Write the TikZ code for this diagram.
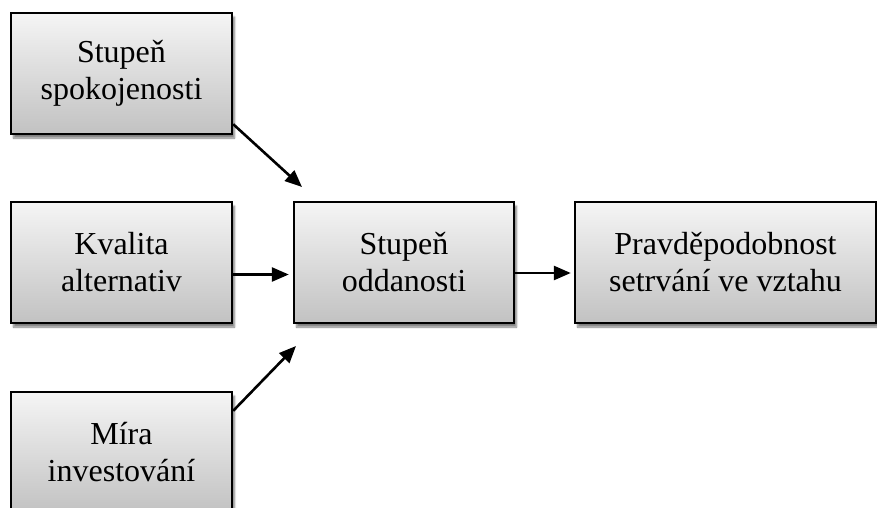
\documentclass[tikz,border=0pt]{standalone}
\usepackage{fontspec}
\setmainfont{Liberation Serif}
\usepackage{tikz}
\usetikzlibrary{arrows.meta, calc, shadows.blur}
\tikzset{
  faktor/.style={draw=black, line width=2.4pt, top color=gray!8, bottom color=gray!48,
    minimum height=121pt, inner sep=0pt, align=center,
    font=\fontsize{32pt}{37pt}\selectfont,
    blur shadow={shadow xshift=2.5pt, shadow yshift=-4pt, shadow blur steps=6, shadow opacity=50}},
  sipka/.style={-{Triangle[length=17pt, width=14pt]}, line width=2.6pt}
}

\begin{document}
\begin{tikzpicture}[x=1pt, y=1pt]
  \useasboundingbox (0,0) rectangle (877,-508);
  \node[faktor, minimum width=221pt] (spokojenost) at (121.5,-73.5) {Stupeň\\spokojenosti};
  \node[faktor, minimum width=221pt] (alternativy) at (121.5,-262.5) {Kvalita\\alternativ};
  \node[faktor, minimum width=221pt] (investice) at (121.5,-452.5) {Míra\\investování};
  \node[faktor, minimum width=220pt] (oddanost) at (404,-262.5) {Stupeň\\oddanosti};
  \node[faktor, minimum width=301pt] (setrvani) at (725.5,-262.5) {Pravděpodobnost\\setrvání ve vztahu};
  % volne konce sikmych sipek
  \coordinate (vstupA) at (302,-187);
  \coordinate (vstupC) at (296,-346);
  \draw[sipka] ($(spokojenost.south east)+(0,11)$) -- (vstupA);
  \draw[sipka] ($(investice.north east)+(0,-20)$) -- (vstupC);
  \draw[sipka] ($(alternativy.east)+(0,-12)$) -- ($(oddanost.west)+(-4,-12)$);
  \draw[sipka] ($(oddanost.east)+(0,-10.5)$) -- ($(setrvani.west)+(-3,-10.5)$);
\end{tikzpicture}
\end{document}
